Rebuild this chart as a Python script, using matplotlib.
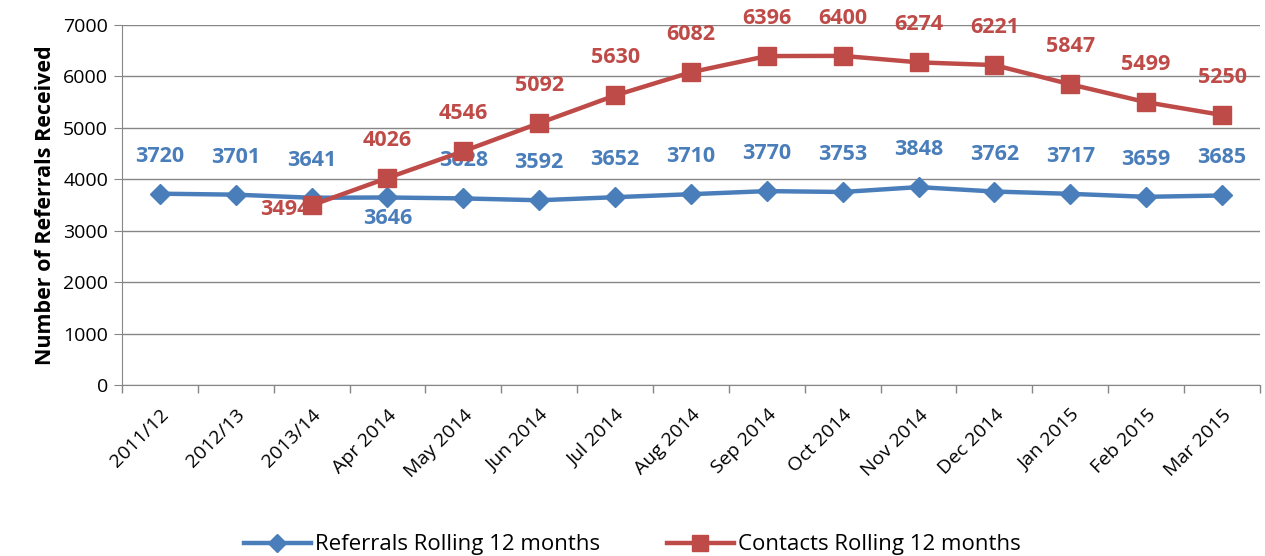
import numpy as np
import matplotlib.pyplot as plt
from matplotlib.ticker import MultipleLocator

plt.rcParams['font.family'] = ['Open Sans', 'DejaVu Sans']

categories = ["2011/12", "2012/13", "2013/14", "Apr 2014", "May 2014", "Jun 2014",
              "Jul 2014", "Aug 2014", "Sep 2014", "Oct 2014", "Nov 2014", "Dec 2014",
              "Jan 2015", "Feb 2015", "Mar 2015"]
referrals = [3720, 3701, 3641, 3646, 3628, 3592, 3652, 3710, 3770, 3753, 3848, 3762,
             3717, 3659, 3685]
# contacts series starts at 2013/14
contacts = [None, None, 3494, 4026, 4546, 5092, 5630, 6082, 6396, 6400, 6274, 6221,
            5847, 5499, 5250]

BLUE = "#4a7ebb"
RED = "#be4b48"
GRID = "#868686"

fig = plt.figure(figsize=(12.65, 5.56), dpi=100)
ax = fig.add_axes([0.0964, 0.3076, 0.8996, 0.6474])

x = np.arange(len(categories))
ref_line, = ax.plot(x, referrals, color=BLUE, lw=3.2, marker="D", ms=10,
                    label="Referrals Rolling 12 months", zorder=3)

cx = [i for i, v in enumerate(contacts) if v is not None]
cv = [v for v in contacts if v is not None]
con_line, = ax.plot(cx, cv, color=RED, lw=3.2, marker="s", ms=13,
                    label="Contacts Rolling 12 months", zorder=4)

# data labels
for i, v in enumerate(referrals):
    dy = -15 if categories[i] == "Apr 2014" else 27
    ax.annotate(f"{v}", (i, v), xytext=(0, dy), textcoords="offset points",
                ha="center", va="center", color=BLUE, fontsize=15.5,
                fontweight="bold", zorder=2)
for i, v in zip(cx, cv):
    if i == 2:
        # sits partly under the first contacts marker, as in the original
        ax.annotate(f"{v}", (i, v), xytext=(-19, -3), textcoords="offset points",
                    ha="center", va="center", color=RED, fontsize=15.5,
                    fontweight="bold", zorder=3)
    else:
        ax.annotate(f"{v}", (i, v), xytext=(0, 27), textcoords="offset points",
                    ha="center", va="center", color=RED, fontsize=15.5,
                    fontweight="bold", zorder=5)

ax.set_xlim(-0.5, len(categories) - 0.5)
ax.set_ylim(0, 7000)
ax.yaxis.set_major_locator(MultipleLocator(1000))
ax.grid(axis="y", color=GRID, lw=1)
ax.set_axisbelow(True)

ax.set_xticks(x)
ax.set_xticklabels(categories, rotation=45, ha="right", rotation_mode="anchor",
                   fontsize=14)
ax.tick_params(axis="x", which="major", length=0, pad=15)
ax.set_xticks(np.arange(-0.5, len(categories), 1), minor=True)
ax.tick_params(axis="x", which="minor", length=6, color=GRID, width=1)
ax.tick_params(axis="y", length=6, color=GRID, labelsize=14, pad=4)

for side in ["top", "right"]:
    ax.spines[side].set_visible(False)
for side in ["left", "bottom"]:
    ax.spines[side].set_color(GRID)

ax.set_ylabel("Number of Referrals Received", fontsize=15.5, fontweight="bold",
              labelpad=5)

fig.legend(handles=[ref_line, con_line], loc="lower center",
           bbox_to_anchor=(0.5, -0.035), ncol=2, frameon=False, fontsize=16,
           handlelength=3.0, columnspacing=3.0, handletextpad=0.2, markerscale=0.9)

fig.savefig("out.png", dpi=100)
